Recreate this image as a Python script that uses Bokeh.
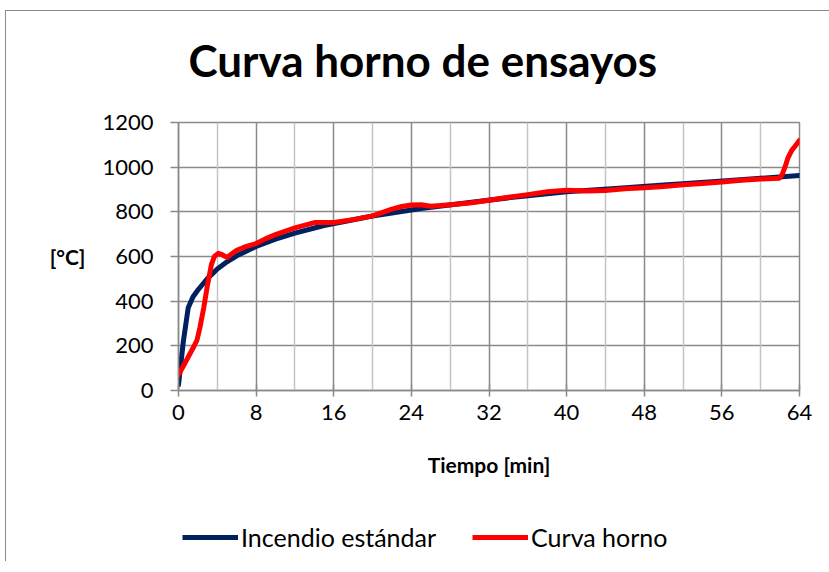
from bokeh.plotting import figure
from bokeh.models import Range1d, FixedTicker, Legend, LegendItem, Grid, Title
from bokeh.layouts import column
from bokeh.embed import file_html
from bokeh.resources import INLINE

# --- data ---
t_std = [0, 0.5, 1, 1.5, 2, 3, 4, 5, 6, 8, 10, 12, 15, 20, 25, 30, 35, 40, 45, 50, 55, 60, 64]
T_std = [25, 220, 370, 420, 450, 502, 544, 576, 603, 645, 678, 705, 739, 781, 815, 842, 868, 890, 905, 920, 935, 950, 963]

t_horno = [0, 0.5, 1, 1.5, 1.9, 2.2, 2.6, 3.0, 3.4, 3.7, 4.1, 4.5, 5.0, 5.5, 6.0, 7.0, 8.0, 9.0, 10, 12,
           14, 16, 18, 20, 22, 23, 24, 25, 26, 27, 28, 30, 32, 34, 36, 38, 40, 42, 44, 46,
           48, 50, 52, 54, 56, 58, 60, 61.9, 62.2, 62.5, 62.8, 63.2, 63.6, 64]
T_horno = [70, 110, 150, 190, 225, 280, 370, 475, 565, 600, 614, 608, 596, 612, 628, 645, 658, 680, 698, 728,
           752, 752, 765, 782, 812, 824, 831, 832, 825, 828, 832, 840, 852, 865, 877, 890, 897, 893, 896, 903,
           908, 913, 921, 927, 934, 941, 947, 950, 965, 1000, 1040, 1075, 1097, 1120]

x_ticks = [0, 8, 16, 24, 32, 40, 48, 56, 64]
x_minor_grid = [4, 12, 20, 28, 36, 44, 52, 60]
y_ticks = [0, 200, 400, 600, 800, 1000, 1200]

title_text = "Curva horno de ensayos"
x_label = "Tiempo [min]"
y_label = "[°C]"
series_names = ["Incendio estándar", "Curva horno"]

FONT = "Lato"
GRID_DARK = "#8a8a8a"
GRID_LIGHT = "#c4c4c4"
BLUE = "#002060"
RED = "#ff0000"

p = figure(
    frame_width=620, frame_height=267,
    min_border_left=172, min_border_right=31, min_border_top=111, min_border_bottom=100,
    x_range=Range1d(0, 64), y_range=Range1d(0, 1200),
    output_backend="svg", toolbar_location=None,
    title=None,
)
p.margin = (10, 0, 0, 5)
p.styles = {"border-left": "1px solid #8a8a8a", "border-top": "1px solid #8a8a8a"}

# spacer between frame and title, then the title itself
spacer = Title(text=" ", text_font_size="1px", standoff=34)
p.add_layout(spacer, "above")
main_title = Title(text=title_text, text_font=FONT, text_font_size="44px", text_font_style="bold",
                   text_color="black", align="left", offset=10, standoff=0)
p.add_layout(main_title, "above")

p.outline_line_color = GRID_DARK
p.outline_line_width = 1.5

# grids
p.xgrid.ticker = FixedTicker(ticks=x_ticks)
p.xgrid.grid_line_color = GRID_DARK
p.xgrid.grid_line_width = 1.5
minor = Grid(dimension=0, ticker=FixedTicker(ticks=x_minor_grid),
             grid_line_color=GRID_LIGHT, grid_line_width=1.5)
p.add_layout(minor)
p.ygrid.ticker = FixedTicker(ticks=y_ticks)
p.ygrid.grid_line_color = GRID_DARK
p.ygrid.grid_line_width = 1.5

# axes
for ax in (p.xaxis[0], p.yaxis[0]):
    ax.axis_line_color = GRID_DARK
    ax.axis_line_width = 1.5
    ax.major_tick_line_color = GRID_DARK
    ax.major_tick_line_width = 1.5
    ax.minor_tick_line_color = None
    ax.major_label_text_font = FONT
    ax.major_label_text_font_size = "22px"
    ax.major_label_text_color = "black"
    ax.axis_label_text_font = FONT
    ax.axis_label_text_font_size = "21px"
    ax.axis_label_text_font_style = "bold"
    ax.axis_label_text_color = "black"

p.xaxis.ticker = FixedTicker(ticks=x_ticks)
p.xaxis.major_tick_in = 6
p.xaxis.major_tick_out = 6
p.xaxis.major_label_standoff = 8
p.xaxis.axis_label = x_label
p.xaxis.axis_label_standoff = 29

p.yaxis.ticker = FixedTicker(ticks=y_ticks)
p.yaxis.major_tick_in = 0
p.yaxis.major_tick_out = 8
p.yaxis.major_label_standoff = 17
p.yaxis.axis_label = y_label
p.yaxis.axis_label_orientation = "horizontal"
p.yaxis.axis_label_standoff = 14

p.line(t_std, T_std, line_color=BLUE, line_width=5, line_join="round", line_cap="round")
p.line(t_horno, T_horno, line_color=RED, line_width=5, line_join="round", line_cap="round")

# --- legend strip below the chart (separate figure, lines kept out of its view) ---
pl = figure(
    width=823, height=72, min_border=0,
    x_range=Range1d(-20, -10), y_range=Range1d(-20, -10),
    x_axis_type=None, y_axis_type=None,
    output_backend="svg", toolbar_location=None,
)
pl.margin = (0, 0, 0, 5)
pl.styles = {"border-left": "1px solid #8a8a8a"}
pl.outline_line_color = None
pl.xgrid.visible = False
pl.ygrid.visible = False
l1 = pl.line(t_std, T_std, line_color=BLUE, line_width=5)
l2 = pl.line(t_horno, T_horno, line_color=RED, line_width=5)

legend = Legend(
    items=[LegendItem(label=series_names[0], renderers=[l1]),
           LegendItem(label=series_names[1], renderers=[l2])],
    orientation="horizontal", location=(4, 9),
    glyph_width=56, glyph_height=20, label_standoff=3, spacing=36,
    padding=5, margin=0,
    label_text_font=FONT, label_text_font_size="25px", label_text_color="black",
    border_line_color=None, background_fill_alpha=0,
)
pl.add_layout(legend)

layout = column(p, pl, spacing=0)
open("out.html", "w").write(file_html(layout, INLINE))
